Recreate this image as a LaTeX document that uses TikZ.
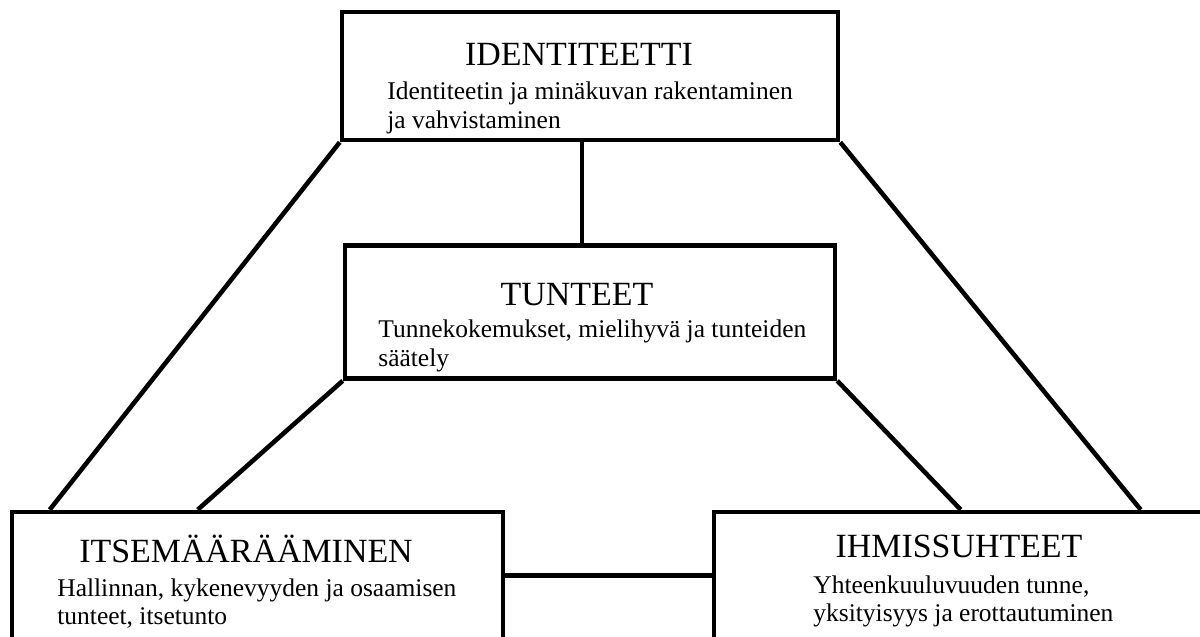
\documentclass[tikz,border=0pt]{standalone}
\usepackage{fontspec}
\setmainfont{Liberation Serif}
\usetikzlibrary{positioning,calc}

\tikzset{
  box/.style={rectangle, draw, line width=2.6pt, inner sep=0pt},
  heading/.style={inner sep=0pt, anchor=base, font=\fontsize{19.3}{23}\selectfont},
  desc/.style={inner sep=0pt, anchor=base west, align=left, font=\fontsize{14.5}{16.5}\selectfont},
  link/.style={line width=2.6pt}
}

\begin{document}
\begin{tikzpicture}
\clip (0,0) rectangle (24,12.74);
\fill[white] (0,0) rectangle (24,12.74);

\node[box, minimum width=9.92cm, minimum height=2.56cm] (ident) at (11.8,11.22) {};
\node[box, minimum width=9.8cm, minimum height=2.66cm] (tunt) at (11.8,6.5) {};
\node[box, minimum width=9.82cm, minimum height=2.54cm] (itse) at (5.15,1.23) {};
\node[box, minimum width=10.02cm, minimum height=2.54cm] (ihmis) at (19.29,1.23) {};

\node[heading] (identtitle) at (11.58,11.42) {IDENTITEETTI};
\node[desc] (identdesc) at (7.74,10.16) {Identiteetin ja minäkuvan rakentaminen\\ja vahvistaminen};

\node[heading] (tunttitle) at (11.54,6.62) {TUNTEET};
\node[desc] (tuntdesc) at (7.56,5.4) {Tunnekokemukset, mielihyvä ja tunteiden\\säätely};

\node[heading] (itsetitle) at (4.92,1.48) {ITSEMÄÄRÄÄMINEN};
\node[desc] (itsedesc) at (1.14,0.24) {Hallinnan, kykenevyyden ja osaamisen\\tunteet, itsetunto};

\node[heading] (ihmistitle) at (19.18,1.58) {IHMISSUHTEET};
\node[desc] (ihmisdesc) at (16.26,0.3) {Yhteenkuuluvuuden tunne,\\yksityisyys ja erottautuminen};

% connectors
\draw[link] ($(ident.south)+(-0.16,0)$) -- ($(tunt.north)+(-0.16,0)$);
\draw[link] (ident.south west) -- ($(itse.north west)+(0.8,0)$);
\draw[link] (ident.south east) -- ($(ihmis.north west)+(8.58,0)$);
\draw[link] (tunt.south west) -- ($(itse.north west)+(3.76,0)$);
\draw[link] (tunt.south east) -- ($(ihmis.north west)+(4.98,0)$);
\draw[link] (itse.east) -- (ihmis.west);
\end{tikzpicture}
\end{document}
